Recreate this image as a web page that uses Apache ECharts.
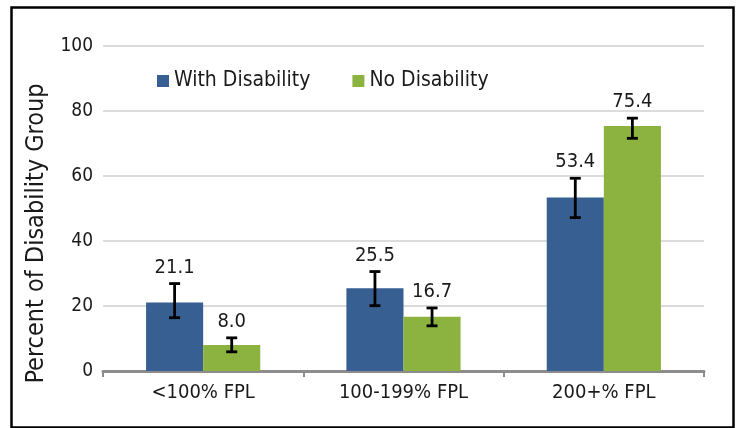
<!DOCTYPE html>
<html>
<head>
<meta charset="utf-8">
<script src="https://cdn.jsdelivr.net/npm/echarts@6/dist/echarts.min.js"></script>
<style>
html,body{margin:0;padding:0;background:#fff;}
#chart{width:737px;height:428px;}
</style>
</head>
<body>
<div id="chart"></div>
<script>
const categories = ['<100% FPL', '100-199% FPL', '200+% FPL'];
const withDisability = [21.1, 25.5, 53.4];
const noDisability = [8.0, 16.7, 75.4];
const withLow = [16.4, 20.1, 47.2];
const withHigh = [26.9, 30.6, 59.3];
const noLow = [5.9, 13.9, 71.6];
const noHigh = [10.2, 19.4, 77.8];
const yTicks = [0, 20, 40, 60, 80, 100];

const FONT = '"DejaVu Sans Condensed", "DejaVu Sans", sans-serif';
const BLUE = '#375F91';
const GREEN = '#8CB340';
const BAR_W = 0.285;

function errorSeries(low, high, vals, sign) {
  return {
    type: 'custom',
    silent: true,
    z: 10,
    data: categories.map((c, i) => [i, low[i], high[i], vals[i]]),
    renderItem: function (params, api) {
      const i = api.value(0);
      const band = api.size([1, 0])[0];
      const off = sign * band * BAR_W / 2;
      const top = api.coord([i, api.value(2)]);
      const bot = api.coord([i, api.value(1)]);
      const x = top[0] + off;
      const cap = 5.5;
      const st = { stroke: '#000', lineWidth: 2.8 };
      return {
        type: 'group',
        children: [
          { type: 'line', shape: { x1: x, y1: top[1], x2: x, y2: bot[1] }, style: st },
          { type: 'line', shape: { x1: x - cap, y1: top[1], x2: x + cap, y2: top[1] }, style: st },
          { type: 'line', shape: { x1: x - cap, y1: bot[1], x2: x + cap, y2: bot[1] }, style: st },
          { type: 'text', x: x, y: top[1] - 6,
            style: { text: api.value(3).toFixed(1), fill: '#1a1a1a', font: '20px ' + FONT,
                     align: 'center', verticalAlign: 'bottom' } }
        ]
      };
    }
  };
}

const chart = echarts.init(document.getElementById('chart'));
chart.setOption({
  animation: false,
  backgroundColor: '#fff',
  graphic: [{
    type: 'rect', left: 9, top: 5, silent: true,
    shape: { width: 722, height: 420 },
    style: { fill: 'none', stroke: '#000', lineWidth: 2.5 }
  }],
  grid: { left: 103, right: 33, top: 46, bottom: 57 },
  legend: {
    left: 152, top: 65, itemWidth: 12, itemHeight: 12, itemGap: 42, icon: 'rect',
    textStyle: { fontFamily: FONT, fontSize: 21, lineHeight: 22, color: '#1a1a1a' },
    data: ['With Disability', 'No Disability']
  },
  xAxis: {
    type: 'category', data: categories,
    axisLine: { lineStyle: { color: '#8c8c8c', width: 3 } },
    axisTick: { show: true, length: 6, lineStyle: { color: '#8c8c8c', width: 2 } },
    axisLabel: { fontFamily: FONT, fontSize: 20, color: '#1a1a1a', margin: 12 }
  },
  yAxis: {
    type: 'value', min: yTicks[0], max: yTicks[yTicks.length - 1], interval: 20,
    name: 'Percent of Disability Group', nameLocation: 'middle', nameRotate: 90, nameGap: 50,
    nameTextStyle: { fontFamily: FONT, fontSize: 25, color: '#1a1a1a', padding: [0, 50, 0, 0] },
    axisLine: { show: false }, axisTick: { show: false },
    splitLine: { lineStyle: { color: '#d0d0d0', width: 1.5 } },
    axisLabel: { fontFamily: FONT, fontSize: 19, color: '#1a1a1a', margin: 10 }
  },
  series: [
    { name: 'With Disability', type: 'bar', data: withDisability, barWidth: (BAR_W * 100) + '%', barGap: '0%',
      itemStyle: { color: BLUE } },
    { name: 'No Disability', type: 'bar', data: noDisability, barWidth: (BAR_W * 100) + '%', barGap: '0%',
      itemStyle: { color: GREEN } },
    errorSeries(withLow, withHigh, withDisability, -1),
    errorSeries(noLow, noHigh, noDisability, 1)
  ]
});
</script>
</body>
</html>
